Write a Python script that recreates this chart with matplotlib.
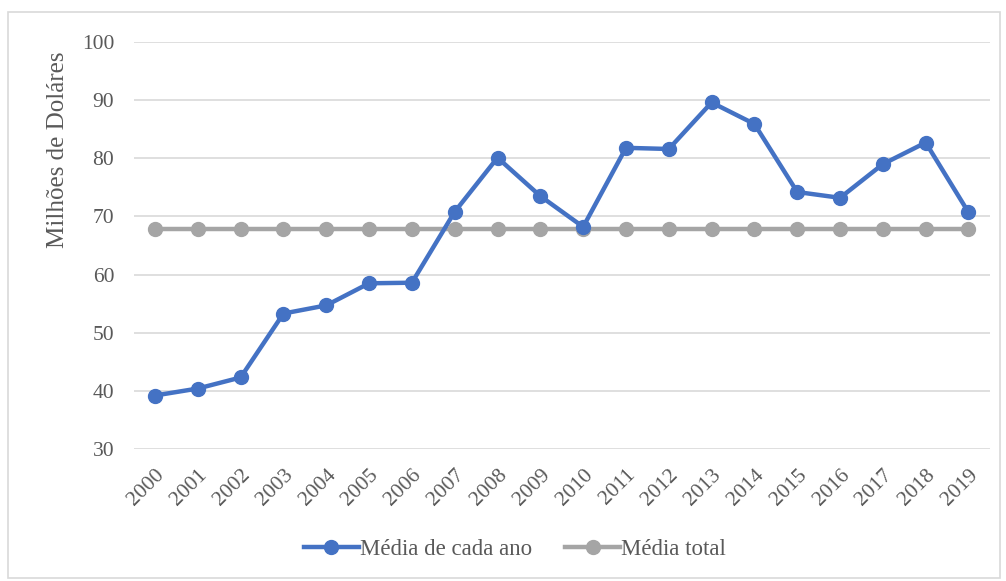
import matplotlib
matplotlib.use('Agg')
import matplotlib.pyplot as plt
from matplotlib.patches import Rectangle

# data
anos = [str(a) for a in range(2000, 2020)]
media_ano = [39.2, 40.4, 42.3, 53.3, 54.7, 58.5, 58.6, 70.8, 80.1, 73.5,
             68.2, 81.8, 81.6, 89.6, 85.9, 74.2, 73.2, 79.0, 82.7, 70.7]
media_total = [67.9] * len(anos)

plt.rcParams['font.family'] = ['Liberation Serif', 'DejaVu Serif']
texto = '#595959'
azul = '#4472c4'
cinza = '#a5a5a5'

fig = plt.figure(figsize=(10.06, 5.81), dpi=100)
fig.patches.append(Rectangle((8 / 1006, 3 / 581), 992 / 1006, 566 / 581,
                             transform=fig.transFigure, fill=False,
                             edgecolor='#d9d9d9', linewidth=1.2))
ax = fig.add_axes([0.1328, 0.2272, 0.8512, 0.7005])

x = list(range(len(anos)))
ax.plot(x, media_ano, color=azul, lw=3.2, marker='o', ms=10,
        label='Média de cada ano', zorder=3)
ax.plot(x, media_total, color=cinza, lw=3.2, marker='o', ms=10,
        label='Média total', zorder=2)

ax.set_xlim(-0.5, len(anos) - 0.5)
ax.set_ylim(30, 100)
ax.set_yticks(range(30, 101, 10))
ax.set_xticks(x)
ax.set_xticklabels(anos, rotation=45, ha='right', rotation_mode='anchor')
ax.grid(axis='y', color='#d9d9d9', lw=1.2)
ax.set_axisbelow(True)
for s in ax.spines.values():
    s.set_visible(False)
ax.tick_params(length=0, labelsize=15.5, colors=texto)
ax.tick_params(axis='y', pad=14)
ax.tick_params(axis='x', pad=12)
ax.set_ylabel('Milhões de Doláres', fontsize=18, color=texto)
ax.yaxis.set_label_coords(-0.076, 0.735)

leg = fig.legend(loc='center', bbox_to_anchor=(0.512, 0.055), ncol=2,
                 frameon=False, fontsize=16.5, handlelength=2.4,
                 handletextpad=0.05, columnspacing=1.45)
for t in leg.get_texts():
    t.set_color(texto)

fig.savefig('out.png', dpi=100)
